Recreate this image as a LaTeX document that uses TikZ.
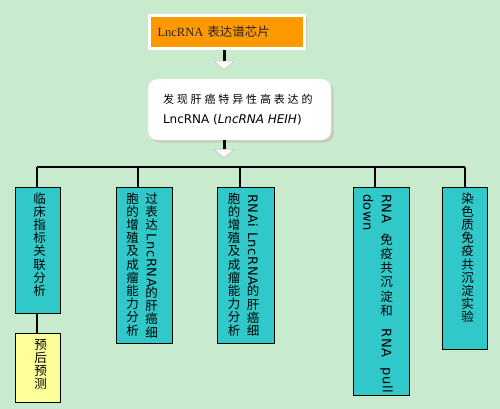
\documentclass[tikz,border=0pt]{standalone}
\usepackage{fontspec}
\usepackage{graphicx}
\usepackage{array}
\setmainfont{Noto Sans CJK SC}
\newfontfamily\cjkwide[LetterSpace=26]{Noto Sans CJK SC}
\newfontfamily\latsans{DejaVu Sans}
\newfontfamily\latvert[LetterSpace=5]{DejaVu Sans}
\newfontfamily\latserif{Liberation Serif}
\usetikzlibrary{positioning,shadows,arrows.meta}

\definecolor{bggreen}{RGB}{200,235,205}
\definecolor{chiporange}{RGB}{255,153,0}
\definecolor{boxteal}{RGB}{48,200,200}
\definecolor{boxyellow}{RGB}{255,255,153}

\newcommand\vcol[1]{\begin{tabular}[t]{@{}>{\setbox0\hbox\bgroup}c<{\egroup\ifdim\dp0<6pt \dp0=\dp\strutbox\fi\ifdim\ht0>\ht\strutbox \ht0=\ht\strutbox\fi\box0}@{}}#1\end{tabular}}
\newcommand\vlat[2][0pt]{\raisebox{9pt}{\rotatebox{-90}{\latvert\fontsize{13}{13}\selectfont #2\hspace{#1}}}}

\begin{document}
\begin{tikzpicture}[x=1pt,y=-1pt,
   chipbox/.style={fill=chiporange, draw=white, line width=3pt, text=black!85,
      drop shadow={shadow xshift=2pt, shadow yshift=-2pt, fill=gray!60}},
   findbox/.style={fill=white, draw=gray!20, rounded corners=9pt,
      drop shadow={shadow xshift=2.5pt, shadow yshift=-2.5pt, fill=brown!40!gray!60}},
   tbox/.style={fill=boxteal, draw=black, line width=0.8pt, inner sep=0pt},
   ybox/.style={tbox, fill=boxyellow},
   vtext/.style={inner sep=0pt, font=\fontsize{12.5}{13.2}\selectfont},
   bar/.style={draw=black, line width=1.6pt},
   blockarrow/.style={line width=3pt, shorten >=9pt,
      -{Triangle[width=22pt,length=9pt,line width=.6pt,color=gray!45,fill=white]}}]

\fill[bggreen] (0,0) rectangle (500,409);
\useasboundingbox (0,0) rectangle (500,409);

\node[chipbox, text width=139pt, minimum height=33pt, inner xsep=8pt, align=left,
   font=\fontsize{12.5}{14}\selectfont] (chip) at (227,32) {{\latserif LncRNA} 表达谱芯片};

\node[findbox, text width=153pt, minimum height=61pt, inner xsep=15pt, align=left,
   font=\fontsize{11}{20}\selectfont] (find) at (239.5,109.5)
   {{\cjkwide 发现肝癌特异性高表达的}\\{\latsans\fontsize{12}{20}\selectfont LncRNA ({\itshape LncRNA HEIH})}};

\coordinate (ax) at (224,0);
\draw[blockarrow] (chip.south -| ax) -- (find.north -| ax);

\coordinate (b1) at (37,167);
\coordinate (b2) at (138,167);
\coordinate (b3) at (240,167);
\coordinate (b4) at (375,167);
\coordinate (b5) at (465,167);
\draw[blockarrow] (find.south -| ax) -- (b3 -| ax);
\draw[bar] (b1) -- (b5);

\node[tbox, minimum width=45pt, minimum height=126pt] (clin) at (37.5,250) {};
\node[ybox, minimum width=45pt, minimum height=69pt] (prog) at (37.5,367.5) {};
\node[tbox, minimum width=56pt, minimum height=156pt] (over) at (144,265) {};
\node[tbox, minimum width=57pt, minimum height=156pt] (rnai) at (245.5,265) {};
\node[tbox, minimum width=56pt, minimum height=208pt] (rip) at (381,291) {};
\node[tbox, minimum width=45pt, minimum height=162pt] (chrom) at (464.5,268) {};

\foreach \b/\n in {b1/clin, b2/over, b3/rnai, b4/rip, b5/chrom}
   \draw[bar] (\b) -- (\b |- \n.north);
\draw[bar] (clin.south -| b1) -- (prog.north -| b1);

\node[vtext, below=7pt of clin.north, xshift=2pt] (clintext)
   {\vcol{临\\床\\指\\标\\关\\联\\分\\析}};
\node[vtext, below=7pt of prog.north, xshift=3pt] (progtext)
   {\vcol{预\\后\\预\\测}};
\node[vtext, below=7pt of over.north, xshift=-2pt] (overtext)
   {\vcol{胞\\的\\增\\殖\\及\\成\\瘤\\能\\力\\分\\析}\hspace{6.5pt}%
    \vcol{过\\表\\达\\\vlat[1pt]{LncRNA}\\的\\肝\\癌\\细}};
\node[vtext, below=7pt of rnai.north, xshift=-2pt] (rnaitext)
   {\vcol{胞\\的\\增\\殖\\及\\成\\瘤\\能\\力\\分\\析}\hspace{6.5pt}%
    \vcol{\vlat[1pt]{RNAi LncRNA}\\的\\肝\\癌\\细}};
\node[vtext, below=7pt of rip.north, xshift=-3pt] (riptext)
   {\vcol{\vlat{down}}\hspace{7pt}%
    \vcol{\vlat[12pt]{RNA}\\[1pt]免\\[1pt]疫\\[1pt]共\\[1pt]沉\\[1pt]淀\\[1pt]和\\[9pt]\vlat[10pt]{RNA}\\\vlat{pull}}};
\node[vtext, below=7pt of chrom.north, xshift=3pt] (chromtext)
   {\vcol{染\\色\\质\\免\\疫\\共\\沉\\淀\\实\\验}};
\end{tikzpicture}
\end{document}
